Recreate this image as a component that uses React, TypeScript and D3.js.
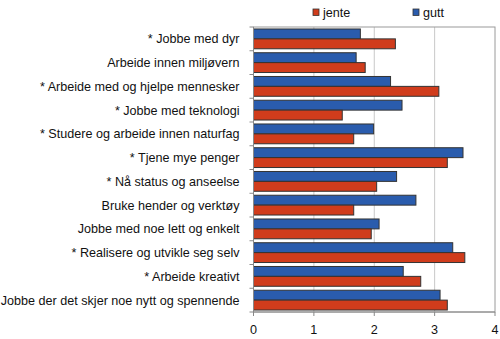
import React from "react";
import * as d3 from "d3";

const categories = [
  "* Jobbe med dyr",
  "Arbeide innen miljøvern",
  "* Arbeide med og hjelpe mennesker",
  "* Jobbe med teknologi",
  "* Studere og arbeide innen naturfag",
  "* Tjene mye penger",
  "* Nå status og anseelse",
  "Bruke hender og verktøy",
  "Jobbe med noe lett og enkelt",
  "* Realisere og utvikle seg selv",
  "* Arbeide kreativt",
  "Jobbe der det skjer noe nytt og spennende",
];
const gutt = [1.77, 1.7, 2.27, 2.46, 1.99, 3.47, 2.37, 2.69, 2.08, 3.3, 2.48, 3.09];
const jente = [2.35, 1.85, 3.07, 1.47, 1.66, 3.21, 2.04, 1.66, 1.95, 3.5, 2.77, 3.21];
const xTicks = [0, 1, 2, 3, 4];
const seriesNames = ["jente", "gutt"];

const RED = "#d03c1c";
const BLUE = "#2a5cad";

export default function App() {
  const W = 500, H = 339;
  const left = 253.5, right = 495, top = 27, bottom = 312;
  const x = d3.scaleLinear().domain([0, 4]).range([left, right]);
  const y = d3.scaleBand<string>().domain(categories).range([top, bottom]).paddingInner(0).paddingOuter(0);
  const bw = y.bandwidth();
  const sub = d3.scaleBand<string>().domain(["gutt", "jente"]).range([0, bw]).paddingInner(0).paddingOuter(0.2);
  const font = "'Liberation Sans', Arial, sans-serif";
  return (
    <svg width={W} height={H} style={{ position: "absolute", left: 0, top: 0 }} fontFamily={font}>
      <rect x={0} y={0} width={W} height={H} fill="#fff" />
      {xTicks.slice(1, -1).map((t) => (
        <line key={t} x1={x(t)} x2={x(t)} y1={top} y2={bottom} stroke="#c8c8c8" strokeWidth={1} />
      ))}
      <rect x={left} y={top} width={right - left} height={bottom - top} fill="none" stroke="#9a9a9a" strokeWidth={1} />
      {categories.map((c, i) => (
        <g key={c}>
          <rect x={x(0)} y={(y(c) as number) + (sub("gutt") as number)} width={x(gutt[i]) - x(0)} height={sub.bandwidth()} fill={BLUE} stroke="#333" strokeWidth={1} />
          <rect x={x(0)} y={(y(c) as number) + (sub("jente") as number)} width={x(jente[i]) - x(0)} height={sub.bandwidth()} fill={RED} stroke="#333" strokeWidth={1} />
        </g>
      ))}
      <line x1={left} x2={left} y1={top} y2={bottom} stroke="#888" />
      {categories.map((c, i) => (
        <line key={"t" + i} x1={left - 4} x2={left} y1={(y(c) as number) + bw} y2={(y(c) as number) + bw} stroke="#888" />
      ))}
      <line x1={left - 4} x2={left} y1={top} y2={top} stroke="#888" />
      {categories.map((c) => (
        <text key={"l" + c} x={239.5} y={(y(c) as number) + bw / 2} dy="0.35em" textAnchor="end" fontSize={12.6} fill="#111">
          {c}
        </text>
      ))}
      <line x1={left} x2={right} y1={bottom} y2={bottom} stroke="#888" />
      {xTicks.map((t) => (
        <g key={"x" + t}>
          <line x1={x(t)} x2={x(t)} y1={bottom} y2={bottom + 4} stroke="#888" />
          <text x={x(t)} y={bottom + 18} dy="0.35em" textAnchor="middle" fontSize={12.6} fill="#111">{t}</text>
        </g>
      ))}
      {seriesNames.map((s, i) => (
        <g key={s} transform={`translate(${313 + i * 100},9)`}>
          <rect x={0} y={0} width={6} height={6.5} fill={s === "jente" ? RED : BLUE} stroke="#333" strokeWidth={0.8} />
          <text x={10} y={3.5} dy="0.35em" fontSize={12.6} fill="#111">{s}</text>
        </g>
      ))}
    </svg>
  );
}
